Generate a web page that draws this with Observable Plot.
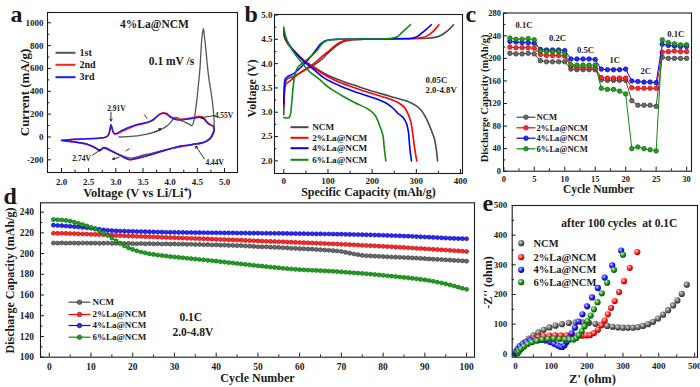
<!DOCTYPE html>
<html><head><meta charset="utf-8">
<script src="https://cdn.jsdelivr.net/npm/d3@7"></script>
<script src="https://cdn.jsdelivr.net/npm/@observablehq/plot@0.6"></script>
<style>
html,body{margin:0;padding:0;background:#fff;}
#fig{position:relative;width:700px;height:387px;overflow:hidden;background:#fff;}
#fig svg{position:absolute;left:0;top:0;overflow:visible;}
</style></head><body><div id="fig"></div>
<script>
// ================= DATA =================
const seriesNames = ["NCM", "2%La@NCM", "4%La@NCM", "6%La@NCM"];
const seriesColors = ["#4a4a4a", "#ff0000", "#0000ff", "#0e8a0e"];

// ---- panel a : CV of 4%La@NCM, [voltage V, current mA/g]
const cv1st = [[3.06,0],[3.2,3],[3.4,10],[3.55,22],[3.71,42],[3.86,72],[3.95,100],[4.01,130],[4.06,160],[4.10,172],[4.15,165],[4.20,148],[4.28,128],[4.35,112],[4.40,100],[4.43,130],[4.46,210],[4.49,320],[4.52,460],[4.55,612],[4.58,845],[4.61,950],[4.63,880],[4.65,800],[4.68,650],[4.71,520],[4.75,400],[4.78,300],[4.80,200],[4.81,120],[4.80,60],[4.77,20],[4.72,-15],[4.65,-40],[4.55,-52],[4.48,-58],[4.44,-62],[4.38,-70],[4.25,-82],[4.1,-95],[3.95,-108],[3.8,-125],[3.65,-143],[3.5,-160],[3.38,-175],[3.3,-183],[3.22,-180],[3.12,-165],[3.0,-145],[2.9,-122],[2.82,-105],[2.77,-100],[2.73,-112],[2.68,-110],[2.6,-88],[2.5,-66],[2.38,-52],[2.22,-42],[2.1,-35],[2.02,-30]];
const cv2nd = [[2.0,-30],[2.1,-26],[2.25,-21],[2.4,-17],[2.55,-14],[2.66,-12],[2.75,-8],[2.82,0],[2.86,14],[2.89,55],[2.91,100],[2.93,75],[2.95,42],[2.98,25],[3.03,28],[3.1,45],[3.2,68],[3.3,88],[3.4,104],[3.5,116],[3.6,128],[3.68,146],[3.75,175],[3.81,200],[3.87,212],[3.93,207],[3.98,190],[4.04,170],[4.12,158],[4.2,155],[4.3,160],[4.4,168],[4.5,178],[4.56,180],[4.62,165],[4.68,130],[4.74,108],[4.79,97],[4.81,72],[4.80,40],[4.77,8],[4.72,-22],[4.65,-42],[4.56,-57],[4.48,-62],[4.44,-64],[4.35,-72],[4.2,-80],[4.05,-97],[3.89,-120],[3.75,-140],[3.58,-165],[3.45,-182],[3.34,-193],[3.26,-200],[3.18,-188],[3.09,-165],[2.97,-135],[2.88,-112],[2.82,-97],[2.78,-94],[2.74,-106],[2.69,-116],[2.64,-101],[2.56,-81],[2.46,-64],[2.34,-51],[2.22,-43],[2.1,-36],[2.0,-31]];
const cv3rd = [[2.0,-30],[2.1,-25],[2.25,-20],[2.4,-17],[2.55,-14],[2.66,-12],[2.75,-8],[2.82,0],[2.86,15],[2.89,60],[2.91,110],[2.93,80],[2.95,45],[2.98,28],[3.03,35],[3.1,55],[3.2,78],[3.3,95],[3.4,110],[3.5,120],[3.6,132],[3.68,150],[3.75,178],[3.81,200],[3.87,207],[3.93,200],[3.98,182],[4.04,165],[4.12,150],[4.2,148],[4.3,155],[4.4,162],[4.5,170],[4.56,172],[4.62,158],[4.68,125],[4.74,105],[4.79,95],[4.81,70],[4.80,40],[4.77,10],[4.72,-20],[4.65,-40],[4.56,-55],[4.48,-60],[4.44,-62],[4.35,-70],[4.2,-78],[4.05,-95],[3.89,-118],[3.75,-138],[3.58,-162],[3.45,-180],[3.34,-191],[3.26,-198],[3.18,-185],[3.09,-162],[2.97,-133],[2.88,-110],[2.82,-95],[2.78,-92],[2.74,-104],[2.69,-115],[2.64,-100],[2.56,-80],[2.46,-63],[2.34,-50],[2.22,-42],[2.1,-35],[2.0,-30]];
const cvNames = ["1st", "2nd", "3rd"];
const cvColors = ["#555555", "#ff2020", "#1a1aff"];
const cvPeaks = [
  {label: "2.91V", tx: 3.01, ty: 247, x1: 2.91, y1: 217, x2: 2.91, y2: 140},
  {label: "4.55V", tx: 4.99, ty: 188, x1: 4.82, y1: 188, x2: 4.56, y2: 168},
  {label: "2.74V", tx: 2.37, ty: -191, x1: 2.57, y1: -160, x2: 2.72, y2: -110},
  {label: "4.44V", tx: 4.82, ty: -221, x1: 4.63, y1: -191, x2: 4.47, y2: -80}
];
const cvDirMarks = [
  {x1: 3.71, y1: 42, x2: 3.83, y2: 72, head: 4},
  {x1: 3.06, y1: -177, x2: 2.94, y2: -194, head: 4},
  {x1: 3.52, y1: 197, x2: 3.58, y2: 160, head: 0},
  {x1: 3.18, y1: -124, x2: 3.25, y2: -103, head: 0}
];
const aXTicks = [2.0, 2.5, 3.0, 3.5, 4.0, 4.5, 5.0];
const aXMinor = [2.25, 2.75, 3.25, 3.75, 4.25, 4.75];
const aYTicks = [-200, 0, 200, 400, 600, 800, 1000];
const aYMinor = [-100, 100, 300, 500, 700, 900];

// ---- panel b : charge/discharge at 0.05C, [capacity mAh/g, voltage V]
const bCharge = [
  [[0,2.95],[1,3.3],[3,3.6],[8,3.68],[20,3.73],[35,3.8],[50,3.88],[68,3.97],[85,4.08],[98,4.2],[113,4.32],[128,4.42],[143,4.47],[158,4.49],[180,4.5],[220,4.505],[260,4.51],[300,4.515],[325,4.52],[342,4.54],[355,4.58],[364,4.63],[375,4.71],[384,4.8]],
  [[0,3.1],[2,3.45],[5,3.58],[15,3.65],[28,3.75],[38,3.82],[52,3.9],[68,4.0],[83,4.12],[98,4.23],[113,4.35],[128,4.44],[140,4.48],[151,4.49],[175,4.5],[220,4.505],[270,4.51],[295,4.515],[310,4.53],[325,4.57],[334,4.63],[343,4.71],[351,4.8]],
  [[0,3.17],[1,3.5],[3,3.68],[10,3.74],[23,3.8],[38,3.92],[50,4.03],[60,4.13],[72,4.27],[83,4.4],[92,4.46],[98,4.48],[121,4.5],[180,4.505],[240,4.51],[275,4.515],[290,4.52],[303,4.56],[311,4.62],[322,4.7],[334,4.8]],
  [[0,2.89],[6,2.88],[12,2.89],[15,2.95],[18,3.2],[21,3.5],[24,3.72],[28,3.85],[33,3.94],[45,4.03],[55,4.1],[65,4.18],[75,4.27],[84,4.38],[92,4.45],[106,4.49],[130,4.5],[180,4.505],[230,4.51],[250,4.53],[260,4.57],[266,4.63],[276,4.71],[287,4.8]]
];
const bDischarge = [
  [[0,4.6],[3,4.5],[10,4.4],[25,4.25],[45,4.07],[70,3.92],[100,3.76],[130,3.65],[168,3.53],[205,3.42],[240,3.33],[281,3.22],[300,3.13],[311,3.04],[322,2.88],[330,2.72],[336,2.58],[341,2.45],[345,2.25],[348,2.0]],
  [[0,4.65],[3,4.52],[10,4.4],[25,4.24],[45,4.06],[70,3.9],[100,3.73],[130,3.6],[168,3.48],[205,3.37],[240,3.27],[262,3.18],[273,3.1],[282,2.95],[288,2.78],[292,2.55],[296,2.27],[299,2.1],[301,2.0]],
  [[0,4.7],[3,4.55],[10,4.42],[25,4.24],[45,4.05],[70,3.86],[92,3.7],[130,3.53],[168,3.4],[205,3.29],[235,3.17],[250,3.06],[258,2.98],[270,2.89],[278,2.76],[282,2.6],[284,2.4],[286,2.2],[289,2.0]],
  [[0,4.75],[3,4.6],[10,4.42],[25,4.2],[40,4.03],[60,3.82],[80,3.68],[100,3.52],[130,3.35],[160,3.2],[190,3.07],[205,2.96],[213,2.82],[218,2.7],[222,2.6],[225,2.5],[227,2.3],[229,2.15],[231,2.0]]
];
const bNotes = ["0.05C", "2.0-4.8V"];
const bXTicks = [0, 100, 200, 300, 400];
const bXMinor = [50, 150, 250, 350];
const bYTicks = [2.0, 2.5, 3.0, 3.5, 4.0, 4.5, 5.0];
const bYMinor = [2.25, 2.75, 3.25, 3.75, 4.25, 4.75];

// ---- panel c : rate capability
const rateCycles = [1,2,3,4,5,6,7,8,9,10,11,12,13,14,15,16,17,18,19,20,21,22,23,24,25,26,27,28,29,30];
const rateNCM  = [209,208,208,209,208, 196,194,194,194,194, 181,180,180,180,180, 162,161,161,161,161, 125,117,117,117,115, 202,200,200,200,200];
const rate2La  = [220,219,219,219,218, 207,205,205,205,204, 186,184,184,184,183, 166,165,165,165,165, 148,147,147,147,147, 211,212,213,212,212];
const rate4La  = [230,229,228,228,227, 216,215,215,215,214, 199,199,199,199,198, 181,180,180,180,181, 160,159,158,158,157, 225,223,222,221,221];
const rate6La  = [236,234,234,235,233, 213,212,212,212,208, 189,188,188,188,188, 147,145,145,142,137, 40,43,40,38,36, 233,228,226,224,224];
const rateLabels = [
  {label: "0.1C", x: 3.3, y: 258}, {label: "0.2C", x: 8.8, y: 235}, {label: "0.5C", x: 13.4, y: 214},
  {label: "1C", x: 18.2, y: 196}, {label: "2C", x: 23.3, y: 177}, {label: "0.1C", x: 28.2, y: 243}
];
const cXTicks = [0, 5, 10, 15, 20, 25, 30];
const cXMinor = [2.5, 7.5, 12.5, 17.5, 22.5, 27.5];
const cYTicks = [0, 40, 80, 120, 160, 200, 240, 280];
const cYMinor = [20, 60, 100, 140, 180, 220, 260];

// ---- panel d : cycling at 0.1C (cycles 1..100)
const cycNCM = [210.2,210.1,210.3,210.0,210.2,210.1,210.0,210.2,210.1,210.0,
 210.1,209.9,210.0,210.1,209.8,209.9,210.0,209.7,209.8,209.6,
 209.5,209.7,209.4,209.6,209.3,209.5,209.2,209.4,209.1,209.3,
 209.0,209.2,208.9,209.0,208.7,208.8,208.5,208.6,208.3,208.4,
 208.1,208.2,207.9,207.9,207.6,207.7,207.3,207.2,206.9,206.6,
 206.4,206.5,206.2,206.0,205.9,205.6,205.5,205.1,205.0,204.7,
 204.6,204.3,204.2,203.9,203.7,203.4,203.2,202.8,202.5,202.0,
 201.2,200.4,199.6,198.9,198.2,197.9,197.7,197.5,197.3,197.1,
 196.9,196.7,196.5,196.4,196.2,196.0,195.8,195.6,195.3,195.1,
 194.8,194.6,194.4,194.2,193.9,193.7,193.4,193.2,193.0,192.7];
const cyc2La = [219.6,219.5,219.6,219.4,219.3,219.2,219.0,218.9,218.8,218.6,
 218.5,218.3,218.2,218.0,217.8,217.5,217.3,217.1,216.9,216.8,
 216.6,216.5,216.3,216.2,216.0,215.9,215.7,215.6,215.4,215.3,
 215.1,215.0,214.8,214.7,214.5,214.4,214.2,214.1,213.9,213.8,
 213.6,213.5,213.3,213.2,213.0,212.9,212.7,212.5,212.4,212.2,
 212.0,211.9,211.7,211.6,211.4,211.3,211.1,211.0,210.8,210.6,
 210.5,210.3,210.2,210.0,209.8,209.7,209.5,209.3,209.2,209.0,
 208.8,208.6,208.4,208.2,208.0,207.8,207.6,207.4,207.2,207.0,
 206.8,206.6,206.3,206.1,205.9,205.6,205.4,205.1,204.9,204.6,
 204.4,204.1,203.9,203.6,203.4,203.1,202.8,202.6,202.3,202.0];
const cyc4La = [227.4,227.1,226.9,226.6,226.3,226.0,225.7,225.3,224.9,224.5,
 224.0,223.4,222.8,222.4,222.1,221.9,221.8,221.6,221.5,221.4,
 221.3,221.2,221.1,221.0,220.9,220.8,220.7,220.6,220.5,220.5,
 220.4,220.4,220.3,220.3,220.2,220.2,220.1,220.1,220.0,220.0,
 220.0,219.9,219.9,219.9,219.8,219.8,219.8,219.7,219.7,219.7,
 219.6,219.6,219.5,219.5,219.5,219.4,219.4,219.3,219.3,219.2,
 219.2,219.1,219.1,219.0,219.0,218.9,218.9,218.8,218.7,218.7,
 218.6,218.5,218.4,218.3,218.2,218.1,218.0,217.9,217.8,217.7,
 217.5,217.4,217.2,217.1,216.9,216.8,216.6,216.4,216.2,216.0,
 215.8,215.6,215.4,215.2,215.0,214.8,214.6,214.5,214.4,214.3];
const cyc6La = [232.8,232.6,232.4,232.0,231.3,230.3,229.2,228.0,226.7,225.3,
 223.7,222.0,220.0,217.6,215.0,212.3,209.7,207.4,205.5,204.0,
 202.6,201.5,200.6,199.8,199.2,198.6,198.1,197.6,197.1,196.7,
 196.3,195.9,195.5,195.1,194.7,194.3,193.9,193.5,193.1,192.7,
 192.2,191.8,191.3,190.9,190.4,190.0,189.5,189.1,188.6,188.2,
 187.8,187.4,187.0,186.6,186.2,185.8,185.4,185.1,184.8,184.5,
 184.3,184.1,183.9,183.7,183.5,183.3,183.1,182.9,182.6,182.3,
 182.0,181.7,181.4,181.1,180.8,180.5,180.2,179.8,179.4,179.0,
 178.6,178.2,177.8,177.4,177.0,176.6,176.1,175.6,175.1,174.6,
 174.0,173.3,172.5,171.6,170.7,169.7,168.7,167.6,166.5,165.5];
const dNotes = [{label: "0.1C", x: 33.9, y: 138.3}, {label: "2.0-4.8V", x: 34.4, y: 124}];
const dXTicks = [0,10,20,30,40,50,60,70,80,90,100];
const dXMinor = [5,15,25,35,45,55,65,75,85,95];
const dYTicks = [100,120,140,160,180,200,220,240];
const dYMinor = [110,130,150,170,190,210,230];

// ---- panel e : Nyquist after 100 cycles, [Z' ohm, -Z'' ohm]
const eisNCM = [[5,5],[10,15],[17,27],[26,39],[37,51],[50,62],[64,72],[79,81],[95,89],[112,95],[130,100],[149,104],[168,106],[187,106],[205,104],[223,101],[240,98],[256,94],[271,91],[286,89],[300,88],[314,88],[328,88],[342,90],[356,94],[370,100],[384,108],[398,119],[412,132],[426,147],[440,163],[452,180],[464,202],[478,233]];
const eis2La = [[3,3],[6,10],[11,19],[18,28],[27,37],[38,45],[50,51],[64,56],[79,59],[95,61],[111,62],[127,62],[143,62],[158,61],[172,61],[186,61],[198,62],[208,63],[219,70],[230,81],[240,96],[249,112],[258,133],[267,155],[277,178],[289,208],[303,245],[319,290],[340,343]];
const eis4La = [[0,0],[2,8],[6,17],[12,26],[20,34],[30,40],[42,45],[56,47],[70,47],[84,45],[97,40],[108,34],[118,28],[125,24],[131,23],[137,29],[143,40],[150,53],[157,69],[166,88],[176,109],[187,133],[200,160],[214,190],[230,222],[249,257],[270,298],[295,348]];
const eis6La = [[6,2],[10,9],[16,17],[24,25],[34,33],[46,39],[60,44],[75,48],[91,50],[107,51],[123,50],[138,49],[151,48],[162,48],[170,53],[177,63],[185,77],[193,93],[201,110],[210,129],[219,150],[229,174],[241,204],[256,240],[275,283],[300,334]];
const eNote = [{label: "after 100 cycles\u00a0 at 0.1C", x: 290, y: 439}];
const eXTicks = [0,100,200,300,400,500];
const eXMinor = [50,150,250,350,450];
const eYTicks = [0,100,200,300,400,500];
const eYMinor = [50,150,250,350,450];

// ================= DRAWING =================
const W = 700, H = 387;
const FONT = "'Liberation Serif', 'Times New Roman', serif";
const INK = "#1a1a1a";
const fig = document.getElementById("fig");

// frames [left, top, right, bottom] in page pixels
const FA = [47, 12, 237, 172];
const FB = [274, 14, 462, 173];
const FC = [503, 12.5, 691, 170.7];
const FD = [40, 202.3, 474, 356.7];
const FE = [511.7, 205, 697, 356.7];

function txt(frame, str, x, y, o = {}) {
  return Plot.text([str], {
    frameAnchor: "top-left", text: d => d,
    dx: x - frame[0], dy: y - frame[1],
    fontSize: o.size ?? 10, textAnchor: o.anchor ?? "middle", lineAnchor: "middle",
    rotate: o.rotate ?? 0, fill: o.color ?? INK, fontStyle: o.italic ? "italic" : "normal"
  });
}
function lineSym(half) {
  return {draw(ctx) { ctx.moveTo(-half, 0); ctx.lineTo(half, 0); }};
}
function swatch(frame, x, y, color, half, sw, marker) {
  const out = [Plot.dot([0], {frameAnchor: "top-left", dx: x - frame[0], dy: y - frame[1],
    symbol: lineSym(half), fill: "none", stroke: color, strokeWidth: sw})];
  if (marker) out.push(Plot.dot([0], {frameAnchor: "top-left", dx: x - frame[0], dy: y - frame[1],
    r: marker.r, fill: marker.fill, stroke: marker.stroke, strokeWidth: 0.6}));
  return out;
}
function addPanel(frame, cfg) {
  const [L, T, R, B] = frame;
  const ih = B - T, iw = R - L;
  const tl = 4, ml = 2.3;
  const svg = Plot.plot({
    width: W, height: H, marginLeft: L, marginTop: T, marginRight: W - R, marginBottom: H - B,
    x: {domain: cfg.xDomain}, y: {domain: cfg.yDomain},
    style: {fontFamily: FONT, fontWeight: "bold", color: INK, background: "transparent", overflow: "visible"},
    marks: [
      ...cfg.marks,
      Plot.tickX(cfg.xTicks, {x: d => d, insetTop: ih - tl, stroke: INK, strokeWidth: 1}),
      Plot.tickX(cfg.xMinor, {x: d => d, insetTop: ih - ml, stroke: INK, strokeWidth: 1}),
      Plot.tickY(cfg.yTicks, {y: d => d, insetRight: iw - tl, stroke: INK, strokeWidth: 1}),
      Plot.tickY(cfg.yMinor, {y: d => d, insetRight: iw - ml, stroke: INK, strokeWidth: 1}),
      Plot.axisX(cfg.xTicks, {tickSize: 0, tickPadding: cfg.xPad, tickFormat: cfg.xFmt, fontSize: cfg.tickFont, label: null}),
      Plot.axisY(cfg.yTicks, {tickSize: 0, tickPadding: cfg.yPad, tickFormat: cfg.yFmt, fontSize: cfg.tickFont, label: null}),
      Plot.frame({stroke: INK, strokeWidth: 1.1}),
      ...(cfg.texts || [])
    ]
  });
  if (cfg.defs) {
    const defs = document.createElementNS("http://www.w3.org/2000/svg", "defs");
    defs.innerHTML = cfg.defs;
    svg.insertBefore(defs, svg.firstChild);
  }
  fig.appendChild(svg);
}
const px = d => d[0], py = d => d[1];

// ---------- panel a ----------
addPanel(FA, {
  xDomain: [1.742, 5.239], yDomain: [-311, 1090],
  xTicks: aXTicks, xMinor: aXMinor, yTicks: aYTicks, yMinor: aYMinor,
  xFmt: d3.format(".1f"), yFmt: d => String(d), tickFont: 9, xPad: 6, yPad: 4,
  marks: [
    Plot.line(cv1st, {x: px, y: py, stroke: cvColors[0], strokeWidth: 1.3, curve: "catmull-rom"}),
    Plot.line(cv2nd, {x: px, y: py, stroke: cvColors[1], strokeWidth: 1.6, curve: "catmull-rom"}),
    Plot.line(cv3rd, {x: px, y: py, stroke: cvColors[2], strokeWidth: 1.4, curve: "catmull-rom"}),
    Plot.arrow(cvPeaks, {x1: "x1", y1: "y1", x2: "x2", y2: "y2", stroke: INK, strokeWidth: 0.9, headLength: 4}),
    Plot.arrow(cvDirMarks.filter(d => d.head > 0), {x1: "x1", y1: "y1", x2: "x2", y2: "y2", stroke: INK, strokeWidth: 0.9, headLength: 4}),
    Plot.link(cvDirMarks.filter(d => d.head === 0), {x1: "x1", y1: "y1", x2: "x2", y2: "y2", stroke: INK, strokeWidth: 0.9}),
    Plot.text(cvPeaks, {x: "tx", y: "ty", text: "label", fontSize: 7.5, fill: INK})
  ],
  texts: [
    txt(FA, "a", 10, 13.8, {size: 24, anchor: "start"}),
    txt(FA, "Voltage (V vs Li/Li\u207A)", 137, 192, {size: 12.5}),
    txt(FA, "Current (mA/g)", 24, 92, {size: 13, rotate: -90}),
    txt(FA, "4%La@NCM", 154, 24, {size: 11.5}),
    txt(FA, "0.1 mV /s", 171, 61, {size: 11.5}),
    ...cvNames.flatMap((n, i) => [
      ...swatch(FA, 65, [52.3, 64.3, 76.7][i], cvColors[i], 10, 2),
      txt(FA, n, 79, [52.3, 64.3, 76.7][i], {size: 10, anchor: "start"})
    ])
  ]
});

// ---------- panel b ----------
addPanel(FB, {
  xDomain: [-21, 404.5], yDomain: [1.74, 5.01],
  xTicks: bXTicks, xMinor: bXMinor, yTicks: bYTicks, yMinor: bYMinor,
  xFmt: d => String(d), yFmt: d3.format(".1f"), tickFont: 9, xPad: 4, yPad: 2,
  marks: [
    ...bCharge.map((s, i) => Plot.line(s, {x: px, y: py, stroke: seriesColors[i], strokeWidth: 1.6, curve: "catmull-rom"})),
    ...bDischarge.map((s, i) => Plot.line(s, {x: px, y: py, stroke: seriesColors[i], strokeWidth: 1.6, curve: "catmull-rom"}))
  ],
  texts: [
    txt(FB, "b", 244, 13.8, {size: 24, anchor: "start"}),
    txt(FB, "Specific Capacity (mAh/g)", 368, 192, {size: 12}),
    txt(FB, "Voltage (V)", 252, 88, {size: 12, rotate: -90}),
    txt(FB, bNotes[0], 425, 80, {size: 8.8, anchor: "start"}),
    txt(FB, bNotes[1], 425, 89.5, {size: 8.8, anchor: "start"}),
    ...seriesNames.flatMap((n, i) => [
      ...swatch(FB, 299, [126.7, 137.3, 147.7, 159.3][i], seriesColors[i], 9, 2),
      txt(FB, n, 311.7, [126.7, 137.3, 147.7, 159.3][i], {size: 9.2, anchor: "start"})
    ])
  ]
});

// ---------- panel c ----------
const rateSeries = [rateNCM, rate2La, rate4La, rate6La];
const markFill = ["#6a6a6a", "#ff2a2a", "#2a2aff", "#22a022"];
const markStroke = ["#2a2a2a", "#a00000", "#00008a", "#005a00"];
addPanel(FC, {
  xDomain: [-0.05, 30.8], yDomain: [0, 280.5],
  xTicks: cXTicks, xMinor: cXMinor, yTicks: cYTicks, yMinor: cYMinor,
  xFmt: d => String(d), yFmt: d => String(d), tickFont: 8.5, xPad: 5, yPad: 2.5,
  marks: [
    ...rateSeries.flatMap((s, i) => [
      Plot.line(s, {x: (d, j) => rateCycles[j], y: d => d, stroke: seriesColors[i], strokeWidth: 1}),
      Plot.dot(s, {x: (d, j) => rateCycles[j], y: d => d, r: 2.3, fill: markFill[i], stroke: markStroke[i], strokeWidth: 0.6})
    ]),
    Plot.text(rateLabels, {x: "x", y: "y", text: "label", fontSize: 8.6, fill: INK})
  ],
  texts: [
    txt(FC, "c", 465, 13.8, {size: 24, anchor: "start"}),
    txt(FC, "Cycle Number", 598, 189, {size: 11.5}),
    txt(FC, "Discharge Capacity (mAh/g)", 484, 98, {size: 10.5, rotate: -90}),
    ...seriesNames.flatMap((n, i) => [
      ...swatch(FC, 525.5, [116.7, 127.3, 137.7, 148.3][i], seriesColors[i], 9.5, 1.2, {r: 2.3, fill: markFill[i], stroke: markStroke[i]}),
      txt(FC, n, 536, [116.7, 127.3, 137.7, 148.3][i], {size: 8.6, anchor: "start"})
    ])
  ]
});

// ---------- panel d ----------
const cycles = d3.range(1, 101);
const cycSeries = [cycNCM, cyc2La, cyc4La, cyc6La];
addPanel(FD, {
  xDomain: [-2.1, 101.9], yDomain: [100, 249],
  xTicks: dXTicks, xMinor: dXMinor, yTicks: dYTicks, yMinor: dYMinor,
  xFmt: d => String(d), yFmt: d => String(d), tickFont: 9.5, xPad: 6, yPad: 6.5,
  marks: [
    ...cycSeries.flatMap((s, i) => [
      Plot.line(s, {x: (d, j) => cycles[j], y: d => d, stroke: seriesColors[i], strokeWidth: 1}),
      Plot.dot(s, {x: (d, j) => cycles[j], y: d => d, r: 2.1, fill: markFill[i], stroke: markStroke[i], strokeWidth: 0.5})
    ]),
    Plot.text(dNotes, {x: "x", y: "y", text: "label", fontSize: 11.5, fill: INK})
  ],
  texts: [
    txt(FD, "d", 3, 195.5, {size: 24, anchor: "start"}),
    txt(FD, "Cycle Number", 257, 377.5, {size: 12}),
    txt(FD, "Discharge Capacity (mAh/g)", 10, 280, {size: 12, rotate: -90}),
    ...seriesNames.flatMap((n, i) => [
      ...swatch(FD, 79, [301.7, 314, 325, 336.7][i], seriesColors[i], 11, 1.2, {r: 2.3, fill: markFill[i], stroke: markStroke[i]}),
      txt(FD, n, 92, [301.7, 314, 325, 336.7][i], {size: 9, anchor: "start"})
    ])
  ]
});

// ---------- panel e ----------
const eisSeries = [eisNCM, eis2La, eis4La, eis6La];
const sphereIds = ["sphG", "sphR", "sphB", "sphN"];
const sphereStops = [["#d8d8d8", "#6a6a6a", "#2c2c2c"], ["#ffc8c8", "#ff2020", "#a00000"], ["#c8c8ff", "#2020ff", "#00008c"], ["#c8f0c8", "#1f9a1f", "#005000"]];
const defs = sphereIds.map((id, i) => `<radialGradient id="${id}" cx="38%" cy="35%" r="65%"><stop offset="0%" stop-color="${sphereStops[i][0]}"/><stop offset="55%" stop-color="${sphereStops[i][1]}"/><stop offset="100%" stop-color="${sphereStops[i][2]}"/></radialGradient>`).join("");
addPanel(FE, {
  xDomain: [-9, 508], yDomain: [-11.4, 500],
  xTicks: eXTicks, xMinor: eXMinor, yTicks: eYTicks, yMinor: eYMinor,
  xFmt: d => String(d), yFmt: d => String(d), tickFont: 9, xPad: 5, yPad: 5,
  defs,
  marks: [
    ...eisSeries.map((s, i) => Plot.dot(s, {x: px, y: py, r: 3.1, fill: `url(#${sphereIds[i]})`, stroke: "none"})),
    Plot.text(eNote, {x: "x", y: "y", text: "label", fontSize: 11.5, fill: INK})
  ],
  texts: [
    txt(FE, "e", 482, 202.5, {size: 24, anchor: "start"}),
    txt(FE, "Z' (ohm)", 592, 378.5, {size: 12.5}),
    txt(FE, "-Z'' (ohm)", 488, 282, {size: 12, rotate: -90}),
    ...seriesNames.flatMap((n, i) => [
      Plot.dot([0], {frameAnchor: "top-left", dx: 520.7 - FE[0], dy: [242.7, 256.7, 269.3, 281.7][i] - FE[1], r: 3.1, fill: `url(#${sphereIds[i]})`, stroke: "none"}),
      txt(FE, n, 533, [242.7, 256.7, 269.3, 281.7][i], {size: 10.5, anchor: "start"})
    ])
  ]
});
</script></body></html>
